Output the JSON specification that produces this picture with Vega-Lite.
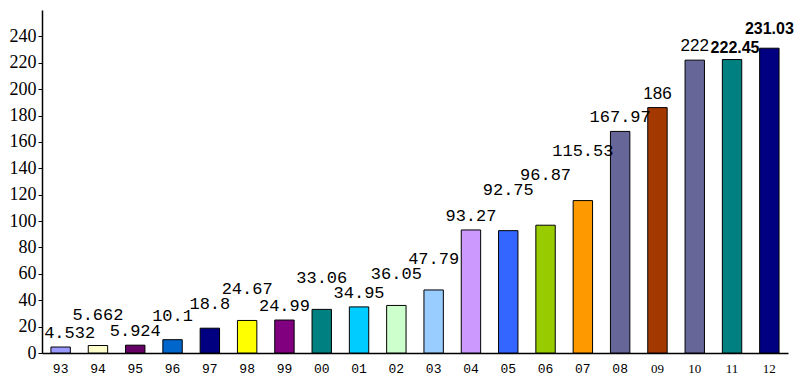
{
  "$schema": "https://vega.github.io/schema/vega-lite/v6.json",
  "autosize": "none",
  "width": 746,
  "height": 343,
  "padding": {"left": 42, "top": 10, "right": 19, "bottom": 34},
  "background": "white",
  "config": {"view": {"stroke": null}},
  "data": {"values": [
    {"year": "93", "value": 4.532, "label": "4.532", "color": "#9999ff"},
    {"year": "94", "value": 5.662, "label": "5.662", "color": "#ffffcc"},
    {"year": "95", "value": 5.924, "label": "5.924", "color": "#660066"},
    {"year": "96", "value": 10.1, "label": "10.1", "color": "#0066cc"},
    {"year": "97", "value": 18.8, "label": "18.8", "color": "#000080"},
    {"year": "98", "value": 24.67, "label": "24.67", "color": "#ffff00"},
    {"year": "99", "value": 24.99, "label": "24.99", "color": "#800080"},
    {"year": "00", "value": 33.06, "label": "33.06", "color": "#008080"},
    {"year": "01", "value": 34.95, "label": "34.95", "color": "#00ccff"},
    {"year": "02", "value": 36.05, "label": "36.05", "color": "#ccffcc"},
    {"year": "03", "value": 47.79, "label": "47.79", "color": "#99ccff"},
    {"year": "04", "value": 93.27, "label": "93.27", "color": "#cc99ff"},
    {"year": "05", "value": 92.75, "label": "92.75", "color": "#3366ff"},
    {"year": "06", "value": 96.87, "label": "96.87", "color": "#99cc00"},
    {"year": "07", "value": 115.53, "label": "115.53", "color": "#ff9900"},
    {"year": "08", "value": 167.97, "label": "167.97", "color": "#666699"},
    {"year": "09", "value": 186, "label": "186", "color": "#a33800"},
    {"year": "10", "value": 222, "label": "222", "color": "#666699"},
    {"year": "11", "value": 222.45, "label": "222.45", "color": "#008080"},
    {"year": "12", "value": 231.03, "label": "231.03", "color": "#000080"}
  ]},
  "encoding": {
    "x": {
      "field": "year", "type": "nominal", "sort": null,
      "scale": {"paddingInner": 0.48, "paddingOuter": 0.24},
      "axis": {
        "title": null, "labelAngle": 0, "ticks": false,
        "domainColor": "black", "domainWidth": 1.5,
        "labelFont": {"condition": {"test": "indexof(['09','10','11','12'], datum.value) >= 0", "value": "Liberation Serif"}, "value": "Liberation Mono"},
        "labelFontSize": 13, "labelColor": "black", "labelPadding": 9
      }
    },
    "y": {
      "field": "value", "type": "quantitative",
      "scale": {"domain": [0, 260], "nice": false},
      "axis": {
        "title": null, "grid": false,
        "values": [0, 20, 40, 60, 80, 100, 120, 140, 160, 180, 200, 220, 240],
        "domainColor": "black", "domainWidth": 1.5,
        "tickColor": "black", "tickSize": 4,
        "labelFont": "Liberation Serif", "labelFontSize": 18, "labelColor": "black", "labelPadding": 2
      }
    }
  },
  "layer": [
    {
      "mark": {"type": "bar", "stroke": "black", "strokeWidth": 1},
      "encoding": {"color": {"field": "color", "type": "nominal", "scale": null}}
    },
    {
      "transform": [{"filter": "datum.year == '93'"}],
      "mark": {"type": "text", "baseline": "bottom", "dy": -5, "dx": 9, "font": "Liberation Mono", "fontSize": 17, "color": "black"},
      "encoding": {"text": {"field": "label"}}
    },
    {
      "transform": [{"filter": "indexof(['95','99','01','04','08'], datum.year) >= 0"}],
      "mark": {"type": "text", "baseline": "bottom", "dy": -5, "font": "Liberation Mono", "fontSize": 17, "color": "black"},
      "encoding": {"text": {"field": "label"}}
    },
    {
      "transform": [{"filter": "indexof(['96','97'], datum.year) >= 0"}],
      "mark": {"type": "text", "baseline": "bottom", "dy": -15, "font": "Liberation Mono", "fontSize": 17, "color": "black"},
      "encoding": {"text": {"field": "label"}}
    },
    {
      "transform": [{"filter": "indexof(['94','98','00','02','03'], datum.year) >= 0"}],
      "mark": {"type": "text", "baseline": "bottom", "dy": -22, "font": "Liberation Mono", "fontSize": 17, "color": "black"},
      "encoding": {"text": {"field": "label"}}
    },
    {
      "transform": [{"filter": "datum.year == '05'"}],
      "mark": {"type": "text", "baseline": "bottom", "dy": -32, "font": "Liberation Mono", "fontSize": 17, "color": "black"},
      "encoding": {"text": {"field": "label"}}
    },
    {
      "transform": [{"filter": "datum.year == '06' || datum.year == '07'"}],
      "mark": {"type": "text", "baseline": "bottom", "dy": -41, "font": "Liberation Mono", "fontSize": 17, "color": "black"},
      "encoding": {"text": {"field": "label"}}
    },
    {
      "transform": [{"filter": "datum.year == '09' || datum.year == '10'"}],
      "mark": {"type": "text", "baseline": "bottom", "dy": -5, "font": "Liberation Sans", "fontSize": 17, "color": "black"},
      "encoding": {"text": {"field": "label"}}
    },
    {
      "transform": [{"filter": "datum.year == '11'"}],
      "mark": {"type": "text", "baseline": "bottom", "dy": -4, "dx": 3, "font": "Liberation Sans", "fontWeight": "bold", "fontSize": 16, "color": "black"},
      "encoding": {"text": {"field": "label"}}
    },
    {
      "transform": [{"filter": "datum.year == '12'"}],
      "mark": {"type": "text", "baseline": "bottom", "dy": -11, "font": "Liberation Sans", "fontWeight": "bold", "fontSize": 16, "color": "black"},
      "encoding": {"text": {"field": "label"}}
    }
  ]
}
